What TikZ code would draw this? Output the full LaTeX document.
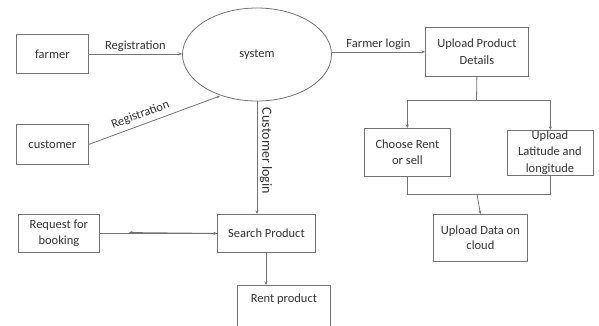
\documentclass[tikz,border=0pt]{standalone}
\usepackage{fontspec}
\setmainfont{Carlito}
\usetikzlibrary{arrows.meta,shapes.geometric}
\definecolor{ln}{gray}{0.45}
\definecolor{tx}{gray}{0.2}
\tikzset{
  box/.style={draw=ln, line width=0.8pt, rectangle, inner sep=0pt, text=tx, font=\fontsize{12.5}{15.5}\selectfont, align=center, anchor=north west},
  conn/.style={draw=ln, line width=0.8pt, -{Stealth[length=3.5pt,width=3pt]}},
  plain/.style={draw=ln, line width=0.8pt},
  lbl/.style={text=tx, font=\fontsize{12.5}{15}\selectfont, inner sep=1pt}
}
\begin{document}
\begin{tikzpicture}[x=1pt,y=-1pt]
\useasboundingbox (0,0) rectangle (599,325);
% boxes
\node[box, minimum width=72pt, minimum height=39pt] (farmer) at (16,34) {farmer};
\node[box, minimum width=72pt, minimum height=40pt] (customer) at (16,124) {customer};
\node[draw=ln, line width=0.8pt, ellipse, minimum width=149pt, minimum height=93pt, text=tx, font=\fontsize{12.5}{15}\selectfont] (system) at (257,54.5) {system};
\node[box, minimum width=103pt, minimum height=49pt, font=\fontsize{12.5}{17}\selectfont] (upd) at (425,27) {Upload Product\\Details};
\node[box, minimum width=86pt, minimum height=48pt] (choose) at (364,128) {Choose Rent\\or sell};
\node[box, minimum width=86pt, minimum height=45pt] (lat) at (507,130) {};
\node[text=tx, font=\fontsize{12.5}{16.5}\selectfont, align=center, inner sep=0pt] (lattxt) at (550,152.5) {Upload\\Latitude and\\longitude};
\node[box, minimum width=94pt, minimum height=47pt, font=\fontsize{12.5}{14.5}\selectfont] (cloud) at (433,214) {Upload Data on\\cloud};
\node[box, minimum width=81pt, minimum height=38pt, font=\fontsize{12.5}{16}\selectfont] (req) at (18,214) {Request for\\booking};
\node[box, minimum width=98pt, minimum height=38pt] (search) at (217,214) {Search Product};
\node[box, minimum width=93pt, minimum height=50pt, text depth=24pt] (rent) at (237,285) {Rent product};
% connectors
\draw[conn] (farmer.east) -- node[lbl, above=1pt] {Registration} (farmer.east -| system.west);
\coordinate (sysreg) at (220,96);
\draw[conn] (customer.east) -- node[lbl, above=3pt, sloped, pos=0.42] {Registration} (sysreg);
\draw[conn] (system.south) -- (search.north -| system.south);
\node[lbl, rotate=-90, font=\fontsize{14}{16}\selectfont] (clogin) at (266,151) {Customer login};
\draw[conn] (upd.west -| system.east) -- node[lbl, above=1pt] {Farmer login} (upd.west);
\coordinate (j1) at (476.5,100);
\draw[plain] (upd.south) -- (j1);
\draw[conn] (j1) -| (choose.north);
\draw[conn] (j1) -| (lat.north);
\coordinate (j2) at (477,194);
\draw[plain] (choose.south) |- (j2);
\draw[plain] (lat.south) |- (j2);
\draw[conn] (j2) -- (cloud.north);
\coordinate (mid) at (129,232.5);
\draw[plain] (req.east) -- (search.west);
\draw[conn] (search.west) -- (mid);
\draw[conn] (req.east) -- (search.west);
\draw[conn] (search.south -| 266,0) -- (rent.north -| 266,0);
\end{tikzpicture}
\end{document}
